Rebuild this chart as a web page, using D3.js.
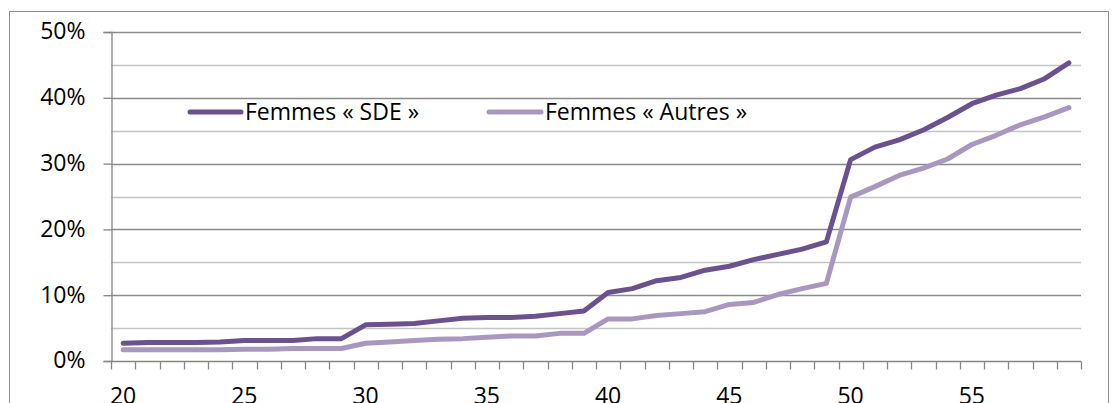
<!DOCTYPE html>
<html><head><meta charset="utf-8">
<script src="https://cdn.jsdelivr.net/npm/d3@7"></script>
<style>body{margin:0;background:#fff}svg{display:block}text{font-family:"Open Sans",sans-serif;fill:#000}</style>
</head><body>
<svg id="c" width="1115" height="403"></svg>
<script>
const ages = d3.range(20, 60);
const sde = [2.7,2.8,2.8,2.8,2.9,3.1,3.1,3.1,3.4,3.4,5.5,5.6,5.7,6.1,6.5,6.6,6.6,6.8,7.2,7.6,10.4,11.0,12.2,12.7,13.8,14.4,15.4,16.2,17.0,18.1,30.6,32.5,33.6,35.1,37.0,39.1,40.4,41.4,42.9,45.3];
const autres = [1.7,1.7,1.7,1.7,1.7,1.8,1.8,1.9,1.9,1.9,2.7,2.9,3.1,3.3,3.4,3.6,3.8,3.8,4.2,4.2,6.4,6.4,6.9,7.2,7.5,8.6,8.9,10.1,11.0,11.8,24.9,26.5,28.2,29.3,30.7,32.9,34.3,35.9,37.1,38.5];
const yTicks = [0,10,20,30,40,50];
const xLabels = [20,25,30,35,40,45,50,55];
const seriesNames = ["Femmes « SDE »","Femmes « Autres »"];
const colors = ["#6a528f","#a898bf"];

const svg = d3.select("#c");
const L=111, R=1081, T=32, B=361;
const FS = "23px";
svg.append("rect").attr("x",9.5).attr("y",11.5).attr("width",1099).attr("height",420)
  .attr("fill","none").attr("stroke","#8e8e8e").attr("stroke-width",1);

const x = d3.scaleBand().domain(ages).range([L,R]);
const y = d3.scaleLinear().domain([0,50]).range([B,T]);

// gridlines
const grid = svg.append("g");
d3.range(5,51,5).forEach(v=>{
  grid.append("line").attr("x1",L).attr("x2",R).attr("y1",Math.round(y(v))+0.5).attr("y2",Math.round(y(v))+0.5)
    .attr("stroke", v%10===0 ? "#8a8a8a" : "#c4c4c4").attr("stroke-width",1.3);
});

// y axis
const ya = svg.append("g").attr("transform",`translate(${L+0.5},0)`)
  .call(d3.axisLeft(y).tickValues(yTicks).tickSize(8).tickPadding(18).tickFormat(d=>d+"%"));
ya.select(".domain").attr("stroke","#868686").attr("stroke-width",1.3);
ya.selectAll(".tick line").attr("stroke","#868686").attr("stroke-width",1.3);
ya.selectAll("text").style("font-size",FS).attr("dy","0.3em");

// x axis
const xa = svg.append("g").attr("transform",`translate(0,${B+0.5})`);
xa.append("line").attr("x1",L).attr("x2",R).attr("stroke","#868686").attr("stroke-width",1.3);
const bounds = ages.map(a=>x(a)).concat([R]);
xa.selectAll("line.t").data(bounds).join("line").attr("class","t")
  .attr("x1",d=>Math.round(d)+0.5).attr("x2",d=>Math.round(d)+0.5).attr("y1",0).attr("y2",8)
  .attr("stroke","#868686").attr("stroke-width",1.3);
xa.selectAll("text").data(xLabels).join("text")
  .attr("x",d=>x(d)+x.bandwidth()/2).attr("y",42).attr("text-anchor","middle")
  .style("font-size",FS).text(d=>d);

// lines
const line = d3.line().x((d,i)=>x(ages[i])+x.bandwidth()/2).y(d=>y(d)).curve(d3.curveLinear);
[sde, autres].forEach((s,k)=>{
  svg.append("path").datum(s).attr("d",line).attr("fill","none").attr("stroke",colors[k])
    .attr("stroke-width",5).attr("stroke-linecap","round").attr("stroke-linejoin","round");
});

// legend
const leg = [{x1:190,x2:241,tx:245},{x1:489,x2:541,tx:545}];
leg.forEach((p,k)=>{
  svg.append("line").attr("x1",p.x1).attr("x2",p.x2).attr("y1",112).attr("y2",112)
    .attr("stroke",colors[k]).attr("stroke-width",5).attr("stroke-linecap","round");
  svg.append("text").attr("x",p.tx).attr("y",120).style("font-size",FS).text(seriesNames[k]);
});
</script>
</body></html>
